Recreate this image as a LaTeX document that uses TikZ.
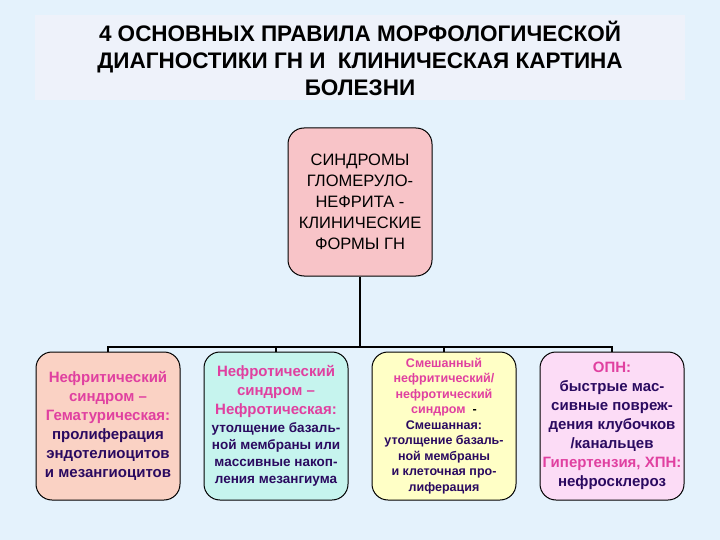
\documentclass[tikz,border=0pt]{standalone}
\usepackage{fontspec}
\setmainfont{Liberation Sans}
\definecolor{bg}{HTML}{E4F2FC}
\definecolor{band}{HTML}{EEF2FA}
\definecolor{mag}{HTML}{E040A0}
\definecolor{dk}{HTML}{2A0A60}
\definecolor{c0}{HTML}{F8C4C8}
\definecolor{c1}{HTML}{FAD2C4}
\definecolor{c2}{HTML}{C6F4EE}
\definecolor{c3}{HTML}{FFFFC6}
\definecolor{c4}{HTML}{FCDCF6}
\begin{document}
\begin{tikzpicture}[x=1pt,y=-1pt,
  box/.style={draw=black,line width=1pt,rounded corners=16pt,minimum width=144pt,minimum height=148pt,align=center,font=\bfseries\fontsize{15}{19}\selectfont,inner sep=0pt},
  ln/.style={line width=1.4pt}]
\fill[bg] (0,0) rectangle (720,540);
\useasboundingbox (0,0) rectangle (720,540);
\fill[band] (35,15) rectangle (685,100);
\node[align=center,font=\bfseries\fontsize{22.5}{27}\selectfont,text=black] (title) at (360,58) {4 ОСНОВНЫХ ПРАВИЛА МОРФОЛОГИЧЕСКОЙ\\ДИАГНОСТИКИ ГН И\ \ КЛИНИЧЕСКАЯ КАРТИНА\\БОЛЕЗНИ};
\node[box,fill=c0,text=black,font=\fontsize{16.5}{21}\selectfont] (top) at (360,202) {СИНДРОМЫ\\ГЛОМЕРУЛО-\\НЕФРИТА -\\КЛИНИЧЕСКИЕ\\ФОРМЫ ГН};
\node[box,fill=c1] (b1) at (108,426) {\textcolor{mag}{Нефритический}\\\textcolor{mag}{синдром –}\\\textcolor{mag}{Гематурическая:}\\\textcolor{dk}{пролиферация}\\\textcolor{dk}{эндотелиоцитов}\\\textcolor{dk}{и мезангиоцитов}};
\node[box,fill=c2] (b2) at (276,426) {\textcolor{mag}{Нефротический}\\\textcolor{mag}{синдром –}\\\textcolor{mag}{Нефротическая:}\\[-1pt]{\fontsize{13.5}{17}\selectfont\textcolor{dk}{утолщение базаль-}}\\[-2pt]{\fontsize{13.5}{17}\selectfont\textcolor{dk}{ной мембраны или}}\\[-2pt]{\fontsize{13.5}{17}\selectfont\textcolor{dk}{массивные накоп-}}\\[-2pt]{\fontsize{13.5}{17}\selectfont\textcolor{dk}{ления мезангиума}}};
\node[box,fill=c3,font=\bfseries\fontsize{12.5}{15.5}\selectfont] (b3) at (444,426) {\textcolor{mag}{Смешанный}\\\textcolor{mag}{нефритический/}\\\textcolor{mag}{нефротический}\\\textcolor{mag}{синдром}\ \ -\\\textcolor{dk}{Смешанная:}\\\textcolor{dk}{утолщение базаль-}\\\textcolor{dk}{ной мембраны}\\\textcolor{dk}{и клеточная про-}\\\textcolor{dk}{лиферация}};
\node[box,fill=c4] (b4) at (612,426) {\textcolor{mag}{ОПН:}\\\textcolor{dk}{быстрые мас-}\\\textcolor{dk}{сивные повреж-}\\\textcolor{dk}{дения клубочков}\\\textcolor{dk}{/канальцев}\\\textcolor{mag}{Гипертензия, ХПН:}\\\textcolor{dk}{нефросклероз}};
\coordinate (j) at (360,347);
\draw[ln] (top.south) -- (j);
\draw[ln] (b1.north) |- (j) -| (b4.north);
\draw[ln] (b2.north) -- (b2.north |- j);
\draw[ln] (b3.north) -- (b3.north |- j);
\end{tikzpicture}
\end{document}
